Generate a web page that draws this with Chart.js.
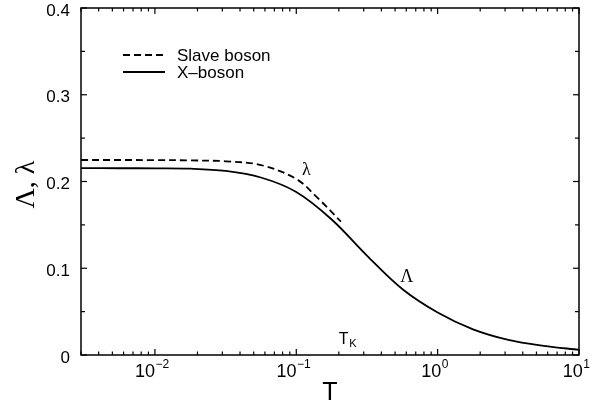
<!DOCTYPE html>
<html>
<head>
<meta charset="utf-8">
<script src="https://cdn.jsdelivr.net/npm/chart.js@4.4.1/dist/chart.umd.min.js"></script>
<style>
  html, body { margin: 0; padding: 0; background: #fff; }
  canvas { display: block; }
</style>
</head>
<body>
<canvas id="chart" width="609" height="405"></canvas>
<script>
const SANS  = '"Liberation Sans", Arial, Helvetica, sans-serif';
const SERIF = '"Liberation Serif", "Times New Roman", serif';

// ── Data ──────────────────────────────────────────────────────────────────────

// X-boson: Λ(T)
const xbosonT   = [0.003, 0.0056, 0.01, 0.0178, 0.0316, 0.0562, 0.1, 0.178, 0.316, 0.562, 1, 1.78, 3.16, 5.62, 10];
const xbosonVal = [0.2154, 0.2153, 0.2152, 0.2148, 0.2122, 0.2046, 0.1879, 0.1562, 0.1146, 0.0761, 0.0490, 0.0296, 0.0175, 0.0106, 0.0060];

// Slave boson: λ(T), stops near T_K
const slaveT   = [0.003, 0.01, 0.0178, 0.0316, 0.0562, 0.1, 0.141, 0.207];
const slaveVal = [0.2248, 0.2247, 0.2243, 0.2233, 0.2190, 0.2029, 0.1814, 0.1537];

const X_MIN = 0.003, X_MAX = 10;
const Y_MIN = 0, Y_MAX = 0.4;
const xDecades = [-2, -1, 0, 1];          // labelled powers of ten
const yLabels  = [0, 0.1, 0.2, 0.3, 0.4];  // labelled y values
const yMinor   = [0.05, 0.15, 0.25, 0.35];

// every 1..9 × 10^p inside the x range
const xTicks = [];
for (let p = -3; p <= 1; p++) {
  for (let m = 1; m <= 9; m++) {
    const v = m * Math.pow(10, p);
    if (v >= X_MIN - 1e-12 && v <= X_MAX + 1e-9) xTicks.push({ v, major: m === 1 });
  }
}

const toPoints = (xs, ys) => xs.map((x, i) => ({ x, y: ys[i] }));

// ── Frame, ticks, labels ──────────────────────────────────────────────────────

function line(ctx, x1, y1, x2, y2) {
  ctx.beginPath();
  ctx.moveTo(x1, y1);
  ctx.lineTo(x2, y2);
  ctx.stroke();
}

const framePlugin = {
  id: 'frame',
  afterDraw(chart) {
    const { ctx, chartArea: a, scales: { x, y } } = chart;
    ctx.save();
    ctx.strokeStyle = '#000';
    ctx.fillStyle = '#000';
    ctx.lineWidth = 1.5;
    ctx.strokeRect(a.left, a.top, a.width, a.height);

    // inward ticks on all four sides
    ctx.lineWidth = 1.2;
    xTicks.forEach(t => {
      const px = x.getPixelForValue(t.v);
      const len = t.major ? 6 : 3.5;
      line(ctx, px, a.bottom, px, a.bottom - len);
      line(ctx, px, a.top, px, a.top + len);
    });
    yLabels.concat(yMinor).forEach((v, i) => {
      const py = y.getPixelForValue(v);
      const len = i < yLabels.length ? 6 : 4;
      line(ctx, a.left, py, a.left + len, py);
      line(ctx, a.right, py, a.right - len, py);
    });

    // y tick labels
    ctx.font = '17px ' + SANS;
    ctx.textAlign = 'right';
    ctx.textBaseline = 'alphabetic';
    yLabels.forEach(v => {
      ctx.fillText(v === 0 ? '0' : v.toFixed(1), a.left - 11, y.getPixelForValue(v) + 7.5);
    });

    // x tick labels: 10 with a raised exponent
    ctx.textAlign = 'left';
    xDecades.forEach(p => {
      const px = x.getPixelForValue(Math.pow(10, p));
      const exp = p < 0 ? '\u2212' + (-p) : String(p);
      ctx.font = '18px ' + SANS;
      const wBase = ctx.measureText('10').width;
      ctx.font = '12px ' + SANS;
      const wExp = ctx.measureText(exp).width;
      const left = px - 3 - (wBase + wExp) / 2;
      ctx.font = '18px ' + SANS;
      ctx.fillText('10', left, a.bottom + 21.7);
      ctx.font = '12px ' + SANS;
      ctx.fillText(exp, left + wBase + 0.5, a.bottom + 12.5);
    });

    // axis titles
    ctx.font = '25px ' + SANS;
    ctx.textAlign = 'center';
    ctx.fillText('T', (a.left + a.right) / 2, 399.5);

    ctx.save();
    ctx.translate(34, (a.top + a.bottom) / 2 + 3);
    ctx.rotate(-Math.PI / 2);
    ctx.font = '28px ' + SERIF;
    ctx.fillText('\u039B, \u03BB', 0, 0);
    ctx.restore();

    // legend
    ctx.lineWidth = 1.8;
    ctx.setLineDash([7, 4]);
    line(ctx, a.left + 42, a.top + 47, a.left + 84, a.top + 47);
    ctx.setLineDash([]);
    line(ctx, a.left + 42, a.top + 64, a.left + 84, a.top + 64);
    ctx.font = '17px ' + SANS;
    ctx.textAlign = 'left';
    ctx.fillText('Slave boson', a.left + 96, a.top + 53);
    ctx.fillText('X\u2013boson', a.left + 96, a.top + 70);

    // curve annotations
    ctx.font = '18px ' + SERIF;
    ctx.textAlign = 'center';
    ctx.fillText('\u03BB', x.getPixelForValue(0.118), y.getPixelForValue(0.2075));
    ctx.fillText('\u039B', x.getPixelForValue(0.605), y.getPixelForValue(0.0845));

    ctx.textAlign = 'left';
    ctx.font = '16px ' + SANS;
    const tkX = x.getPixelForValue(0.2), tkY = y.getPixelForValue(0.0124);
    ctx.fillText('T', tkX, tkY);
    ctx.font = '11px ' + SANS;
    ctx.fillText('K', tkX + 10.5, tkY + 3);
    ctx.restore();
  },
};

// ── Chart ─────────────────────────────────────────────────────────────────────

new Chart(document.getElementById('chart'), {
  type: 'scatter',
  data: {
    datasets: [
      {
        label: 'Slave boson',
        data: toPoints(slaveT, slaveVal),
        showLine: true,
        borderColor: '#000',
        borderWidth: 1.8,
        borderDash: [7, 4],
        pointRadius: 0,
        tension: 0.35,
      },
      {
        label: 'X\u2013boson',
        data: toPoints(xbosonT, xbosonVal),
        showLine: true,
        borderColor: '#000',
        borderWidth: 1.8,
        pointRadius: 0,
        tension: 0.35,
      },
    ],
  },
  options: {
    responsive: false,
    animation: false,
    devicePixelRatio: 1,
    layout: { padding: { top: 8, right: 30, left: 0, bottom: 0 } },
    plugins: { legend: { display: false }, tooltip: { enabled: false } },
    scales: {
      x: {
        type: 'logarithmic',
        min: X_MIN,
        max: X_MAX,
        grid: { display: false },
        border: { display: false },
        ticks: { display: false },
        afterFit: s => { s.height = 50; },
      },
      y: {
        type: 'linear',
        min: Y_MIN,
        max: Y_MAX,
        grid: { display: false },
        border: { display: false },
        ticks: { display: false, stepSize: 0.1 },
        afterFit: s => { s.width = 81; },
      },
    },
  },
  plugins: [framePlugin],
});
</script>
</body>
</html>
